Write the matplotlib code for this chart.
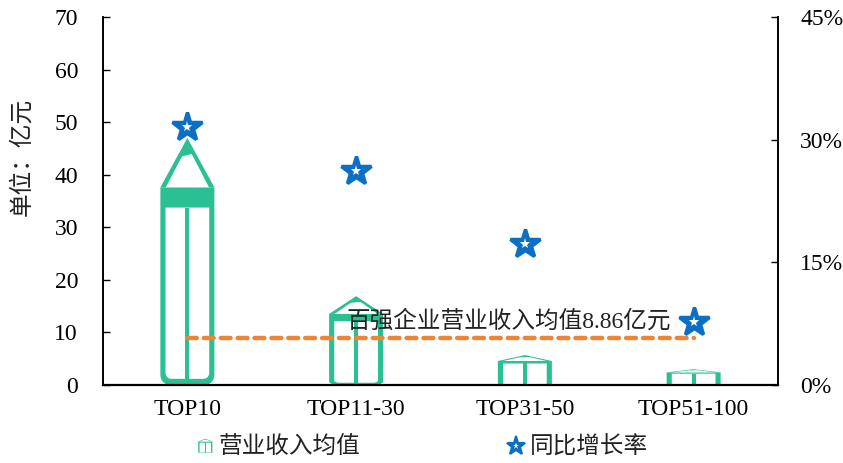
import numpy as np
import matplotlib
matplotlib.use("Agg")
import matplotlib.pyplot as plt
from matplotlib.patches import Polygon
from matplotlib.lines import Line2D
from matplotlib.legend_handler import HandlerBase
from matplotlib.ticker import PercentFormatter

plt.rcParams['font.family'] = ['Liberation Serif', 'Noto Sans CJK SC']

categories = ['TOP10', 'TOP11-30', 'TOP31-50', 'TOP51-100']
revenue_avg = [47.0, 16.9, 5.7, 3.0]          # 亿元
yoy_growth = [0.315, 0.262, 0.172, 0.077]     # 同比增长率
top100_avg = 8.86

GREEN = '#2BBF94'
BLUE = '#0B6FC4'
ORANGE = '#EE8434'


def rounded_bottom(u0, u1, v0, v1, ru, rv, n=8):
    # rectangle with the two lower corners rounded (normalised coords)
    t = np.linspace(0, np.pi / 2, n)
    left = [(u0 + ru - ru * np.sin(a), v0 + rv - rv * np.cos(a)) for a in t[::-1]]
    right = [(u1 - ru + ru * np.sin(a), v0 + rv - rv * np.cos(a)) for a in t]
    return [(u0, v1)] + left + right + [(u1, v1)]


def pencil_parts():
    # pencil/house glyph in unit box: (polygon, colour) in drawing order
    body = rounded_bottom(0.0, 1.0, 0.0, 0.80, 0.18, 0.04)
    inner = rounded_bottom(0.095, 0.905, 0.025, 0.718, 0.10, 0.025)
    mid = [(0.465, 0.025), (0.535, 0.025), (0.535, 0.718), (0.465, 0.718)]
    roof = [(0.0, 0.80), (0.5, 1.0), (1.0, 0.80)]
    roof_in = [(0.10, 0.80), (0.90, 0.80), (0.58, 0.935), (0.40, 0.925)]
    return [(body, GREEN), (inner, 'white'), (mid, GREEN),
            (roof, GREEN), (roof_in, 'white')]


def draw_pencil(ax, xc, height, width, **kw):
    for pts, col in pencil_parts():
        pts = np.asarray(pts)
        xy = np.column_stack([xc + (pts[:, 0] - 0.5) * width, pts[:, 1] * height])
        ax.add_patch(Polygon(xy, closed=True, facecolor=col, edgecolor='none', **kw))


class PencilHandler(HandlerBase):
    def create_artists(self, legend, orig_handle, xdescent, ydescent,
                       width, height, fontsize, trans):
        w = height * 1.0
        x0 = -xdescent + (width - w) / 2
        arts = []
        for pts, col in pencil_parts():
            pts = np.asarray(pts)
            xy = np.column_stack([x0 + pts[:, 0] * w, -ydescent + pts[:, 1] * height])
            p = Polygon(xy, closed=True, facecolor=col, edgecolor='none', transform=trans)
            arts.append(p)
        return arts


fig = plt.figure(figsize=(8.43, 4.63), dpi=100)
ax = fig.add_axes([103 / 843, 78 / 463, 675 / 843, 368 / 463])
ax2 = ax.twinx()

x = np.arange(len(categories))
bar_w = 0.32
for xi, v in zip(x, revenue_avg):
    draw_pencil(ax, xi, v, bar_w)

# 百强均值参考线
ax.plot([x[0], x[-1]], [top100_avg, top100_avg], color=ORANGE, lw=3.2,
        ls=(0, (2.2, 1.6)), dash_capstyle='round', zorder=3)
ax.text(0.94, 12.2, f'百强企业营业收入均值{top100_avg}亿元', fontsize=17,
        va='center', ha='left', color='#222222', zorder=4)

# 同比增长率（星形标记）
ax2.plot(x, yoy_growth, ls='none', marker='*', ms=22, color=BLUE,
         mec=BLUE, mew=2.5, zorder=5)
ax2.plot(x, yoy_growth, ls='none', marker='*', ms=8, color='white',
         mec='white', mew=0, zorder=6)

ax.set_xlim(-0.5, 3.5)
ax.set_ylim(0, 70)
ax.set_yticks(range(0, 71, 10))
ax2.set_ylim(0, 0.45)
ax2.set_yticks([0, 0.15, 0.30, 0.45])
ax2.yaxis.set_major_formatter(PercentFormatter(1.0, decimals=0))

ax.set_xticks(x)
ax.set_xticklabels(categories)
ax.tick_params(axis='x', length=0, pad=10, labelsize=17)
ax.tick_params(axis='y', direction='in', length=5, width=1, pad=18, labelsize=17)
ax2.tick_params(axis='y', direction='in', length=5, width=1, pad=16, labelsize=17)

for a in (ax, ax2):
    a.spines['top'].set_visible(False)
    for s in ('left', 'right', 'bottom'):
        a.spines[s].set_linewidth(1.2)
        a.spines[s].set_color('black')
ax.spines['bottom'].set_linewidth(1.6)

fig.text(22 / 843, 1 - 157 / 463, '单位：亿元', rotation=90, fontsize=17,
         va='center', ha='center', color='#222222')

pencil_h = Line2D([], [], color=GREEN)
star_h = (Line2D([], [], ls='none', marker='*', ms=14, color=BLUE, mec=BLUE, mew=1.5),
          Line2D([], [], ls='none', marker='*', ms=5, color='white', mec='white', mew=0))
leg = fig.legend([pencil_h, star_h], ['营业收入均值', '同比增长率'], loc='center',
                 bbox_to_anchor=(0.502, 1 - 448 / 463), ncol=2, frameon=False,
                 fontsize=17, handlelength=0.55, handleheight=0.55,
                 handletextpad=0.3, columnspacing=6.3,
                 handler_map={pencil_h: PencilHandler()})
for t in leg.get_texts():
    t.set_color('#222222')

fig.savefig('out.png', dpi=100)
